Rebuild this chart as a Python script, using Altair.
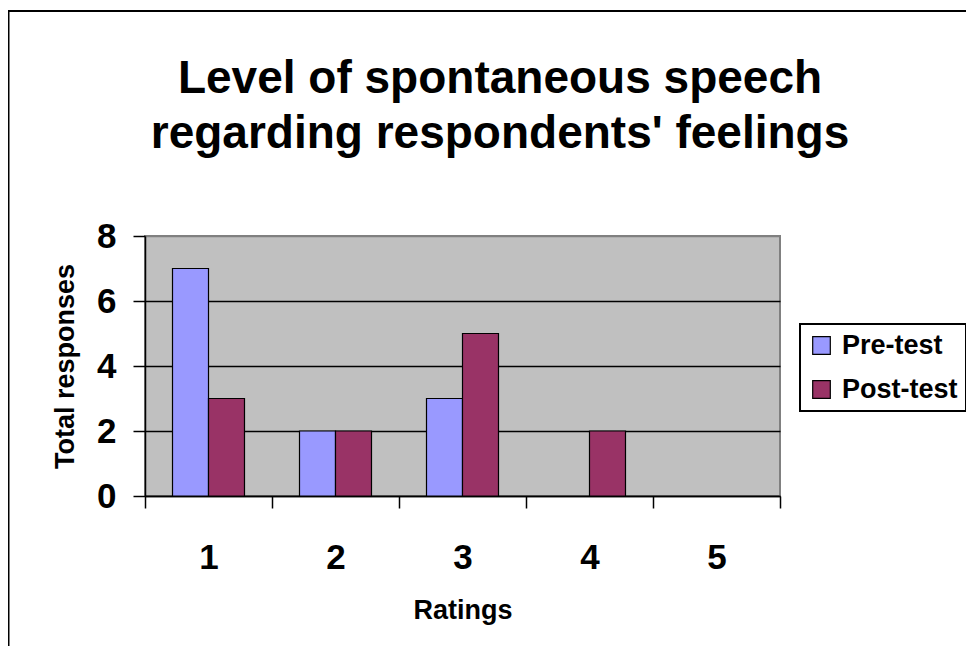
import altair as alt
import pandas as pd

ratings = ["1", "2", "3", "4", "5"]
pre_test = [7, 2, 3, 0, 0]
post_test = [3, 2, 5, 2, 0]
series = ["Pre-test", "Post-test"]
colors = ["#9999FF", "#993366"]
title_lines = ["Level of spontaneous speech", "regarding respondents' feelings"]

rows = []
for i, r in enumerate(ratings):
    rows.append({"Rating": r, "Series": series[0], "Value": pre_test[i]})
    rows.append({"Rating": r, "Series": series[1], "Value": post_test[i]})
df = pd.DataFrame(rows)

FONT = "Liberation Sans"
W, H = 635, 260

bars = alt.Chart(df).transform_filter("datum.Value > 0").mark_bar(
    stroke="black", strokeWidth=1.2
).encode(
    x=alt.X("Rating:N", sort=ratings,
            scale=alt.Scale(domain=ratings, paddingInner=0, paddingOuter=0),
            axis=alt.Axis(title="Ratings", labelAngle=0, tickBand="extent",
                          labelFontSize=35, labelFontWeight="bold", labelFont=FONT,
                          labelPadding=32, labelBaseline="top",
                          tickSize=12, tickWidth=1.5, tickColor="black",
                          domainColor="black", domainWidth=1.5,
                          titleFontSize=27, titleFontWeight="bold", titleFont=FONT,
                          titleX=W / 2, titleY=122, titleBaseline="alphabetic",
                          titleAlign="center", grid=False)),
    xOffset=alt.XOffset("Series:N", sort=series,
                        scale=alt.Scale(domain=series, paddingInner=0, paddingOuter=0.764)),
    y=alt.Y("Value:Q", scale=alt.Scale(domain=[0, 8], nice=False),
            axis=alt.Axis(title="Total responses", values=[0, 2, 4, 6, 8],
                          labelFontSize=35, labelFontWeight="bold", labelFont=FONT,
                          labelPadding=17, tickSize=12, tickWidth=1.5, tickColor="black",
                          domainColor="black", domainWidth=1.5,
                          grid=True,
                          gridColor=alt.condition("datum.value == 8", alt.value("#808080"), alt.value("black")),
                          gridWidth=1.3,
                          titleFontSize=27, titleFontWeight="bold", titleFont=FONT,
                          titleX=-72, titleY=H / 2, titleAngle=270,
                          titleBaseline="alphabetic", titleAlign="center")),
    color=alt.Color("Series:N", sort=series,
                    scale=alt.Scale(domain=series, range=colors),
                    legend=alt.Legend(title=None, orient="none", legendX=655, legendY=88,
                                      symbolType="square", symbolSize=310,
                                      symbolStrokeColor="black", symbolStrokeWidth=1.2,
                                      labelFontSize=27, labelFontWeight="bold", labelFont=FONT,
                                      labelOffset=7, rowPadding=16, padding=8,
                                      strokeColor="black", fillColor="white")),
)

title = alt.Chart(pd.DataFrame({"a": [0]})).mark_text(
    text=title_lines, font=FONT, fontSize=46, fontWeight="bold", color="black",
    align="center", baseline="alphabetic", lineHeight=55,
).encode(x=alt.value(355), y=alt.value(-143))

border = alt.Chart(pd.DataFrame({"a": [0]})).mark_rect(
    fill=None, stroke="black", strokeWidth=2
).encode(
    x=alt.value(-136.5), x2=alt.value(1000),
    y=alt.value(-225), y2=alt.value(600),
)

chart = alt.layer(bars, title, border).properties(
    width=W, height=H,
    background="white",
    autosize=alt.AutoSizeParams(type="none"),
    padding={"left": 137, "top": 228, "right": 186, "bottom": 150},
).configure_view(
    fill="#C0C0C0", stroke="#808080", strokeWidth=2
).configure_legend(
    strokeWidth=2
)

chart.save("out.html", embed_options={"renderer": "svg", "actions": False})
